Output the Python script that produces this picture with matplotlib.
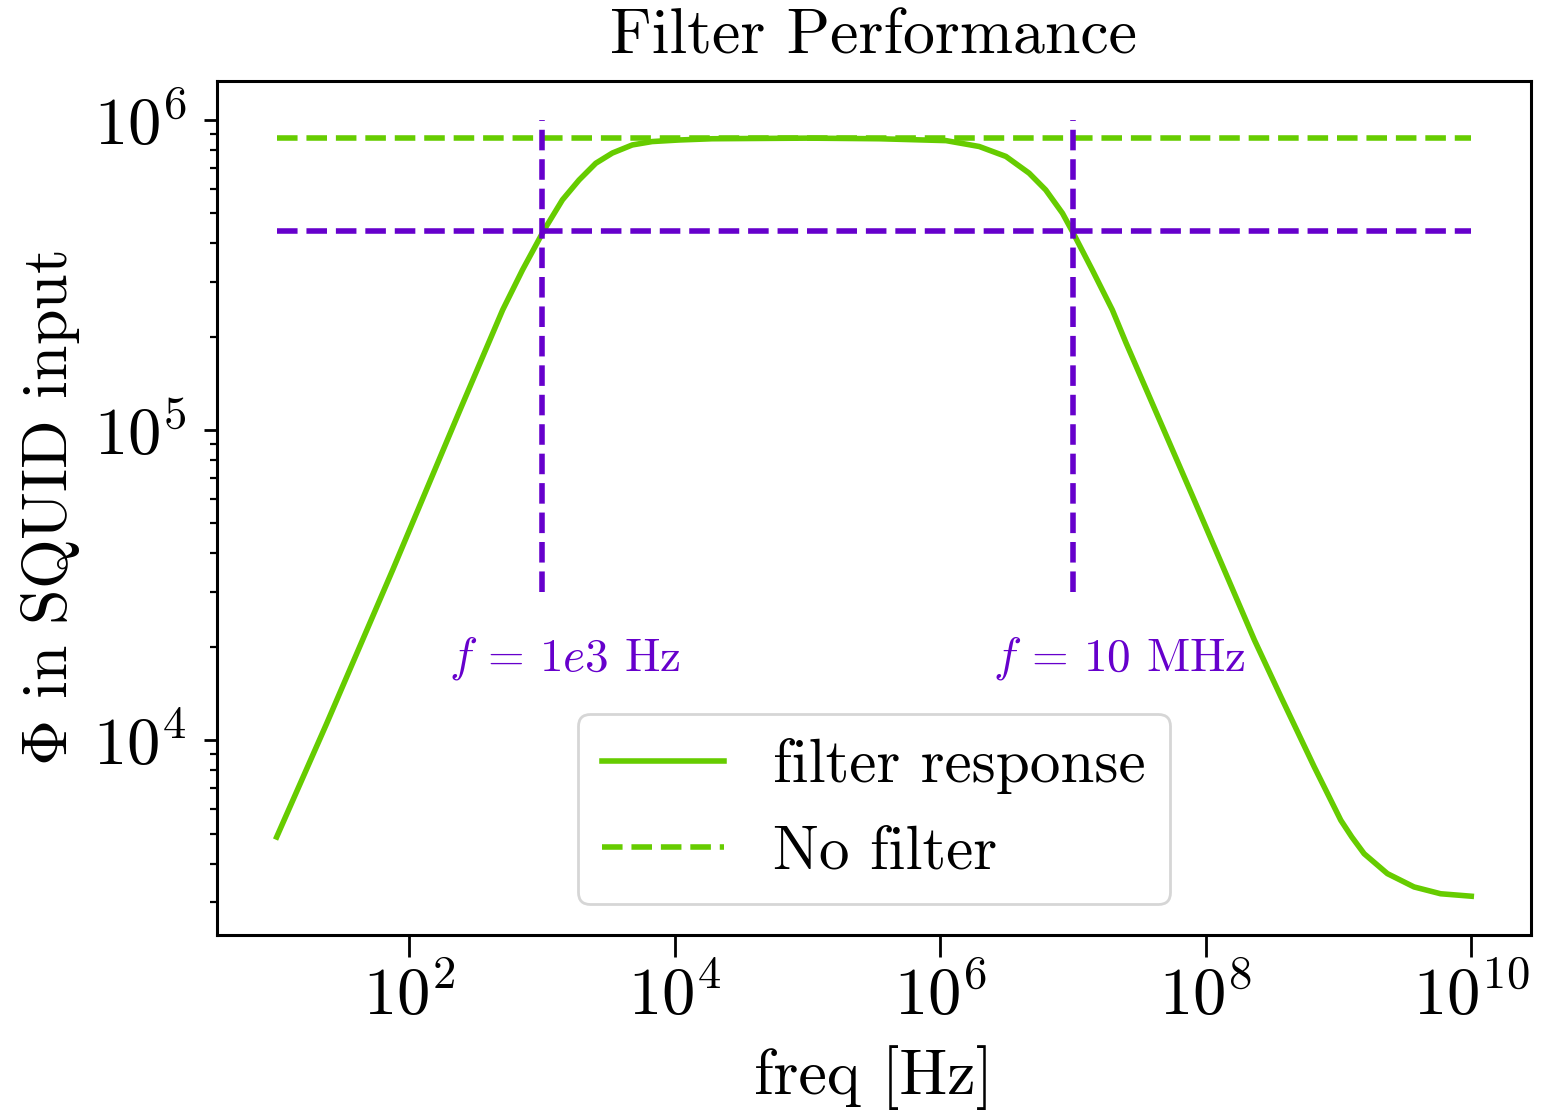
import matplotlib
matplotlib.use("Agg")
import matplotlib.pyplot as plt

plt.rcParams["font.family"] = ["cmr10", "DejaVu Serif"]
plt.rcParams["mathtext.fontset"] = "cm"
plt.rcParams["axes.formatter.use_mathtext"] = True

# values
freq = [10, 23.7, 75.0, 238, 504, 711, 1035, 1422, 1897, 2535, 3381, 4775, 6745,
        10720, 19050, 1e5, 3.475e5, 1.104e6, 1.963e6, 3.119e6, 4.667e6, 6.223e6,
        8.318e6, 9.886e6, 1.396e7, 1.977e7, 2.512e7, 7.889e7, 2.323e8, 3.681e8,
        6.561e8, 1.040e9, 1.259e9, 1.560e9, 2.333e9, 3.707e9, 5.875e9, 1e10]
phi = [4875, 11270, 35480, 114800, 243800, 328100, 441600, 552100, 639700, 724400,
       781600, 829900, 851100, 861000, 869000, 873000, 869000, 857000, 820400,
       762100, 673000, 594300, 500000, 436500, 328100, 243800, 190500, 61660,
       21040, 13800, 8204, 5521, 4875, 4305, 3715, 3365, 3199, 3141]
f_range = [1e1, 1e10]
phi_nofilter = 875000
phi_half = 437500
f_cut = [1e3, 1e7]
vline_span = [3e4, 1e6]
cut_labels = [r"$f\,=\,1e3$ Hz", r"$f\,=\,10$ MHz"]
label_pos = [(200, 16800), (2.5e6, 16800)]

green = "#66cc00"
purple = "#6600cc"

fig = plt.figure(figsize=(7.77, 5.595), dpi=200)
ax = fig.add_axes([0.1396, 0.1644, 0.8456, 0.7632])

ax.plot(freq, phi, color=green, lw=2, label="filter response")
ax.plot(f_range, [phi_nofilter, phi_nofilter], "--", color=green, lw=2, label="No filter")
ax.plot(f_range, [phi_half, phi_half], "--", color=purple, lw=2)
for fc in f_cut:
    ax.plot([fc, fc], vline_span, "--", color=purple, lw=2)
for (x, y), t in zip(label_pos, cut_labels):
    ax.text(x, y, t, color=purple, fontsize=17, ha="left", va="baseline")

ax.set_xscale("log")
ax.set_yscale("log")
ax.set_title("Filter Performance", fontsize=23, pad=10)
ax.set_xlabel("freq [Hz]", fontsize=23, labelpad=6)
ax.set_ylabel(r"$\Phi$ in SQUID input", fontsize=23)
ax.tick_params(labelsize=24, which="major", width=1)
ax.tick_params(axis="x", which="major", length=8, pad=3)
ax.tick_params(axis="y", which="major", length=4.8, pad=6)
ax.tick_params(which="minor", length=2.5, width=0.8)
for s in ax.spines.values():
    s.set_linewidth(1.1)
ax.legend(loc="lower center", fontsize=22)

fig.savefig("out.png", dpi=200)
